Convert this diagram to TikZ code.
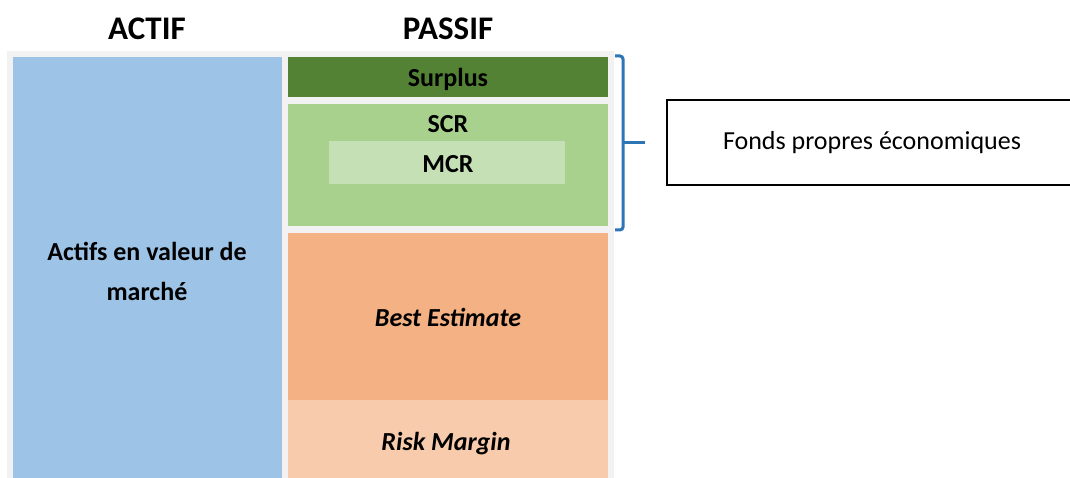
\documentclass[tikz,border=0pt]{standalone}
\usepackage{fontspec}
\setmainfont{Carlito}
\definecolor{bgGray}{HTML}{F2F2F2}
\definecolor{actifBlue}{HTML}{9DC3E6}
\definecolor{surplusGreen}{HTML}{548235}
\definecolor{scrGreen}{HTML}{A9D18E}
\definecolor{mcrGreen}{HTML}{C5E0B4}
\definecolor{beOrange}{HTML}{F4B183}
\definecolor{rmOrange}{HTML}{F8CBAD}
\definecolor{braceBlue}{HTML}{2E75B6}
\tikzset{
  block/.style={draw=none, inner sep=0pt, font=\fontsize{26}{30}\selectfont\bfseries},
  iblock/.style={block, font=\fontsize{26}{30}\selectfont\bfseries\itshape},
  heading/.style={font=\fontsize{33}{37}\selectfont\bfseries, inner sep=0pt},
}
\begin{document}
\begin{tikzpicture}[x=1pt,y=-1pt]
\useasboundingbox (0,0) rectangle (1070,478);
\fill[bgGray] (7,51) rectangle (614,478);
\node[heading] (actif) at (147,29) {ACTIF};
\node[heading] (passif) at (448,29) {PASSIF};
% actif
\fill[actifBlue] (13,57) rectangle (282,478);
\node[block, align=center] (actifs) at (147,271) {Actifs en valeur de\\[10pt]marché};
% passif
\fill[surplusGreen] (288,57) rectangle (608,97);
\node[block] (surplus) at (448,79) {Surplus};
\fill[scrGreen] (288,104) rectangle (608,226);
\node[block] (scr) at (448,124) {SCR};
\fill[mcrGreen] (329,141) rectangle (565,184);
\node[block] (mcr) at (448,164) {MCR};
\fill[beOrange] (288,233) rectangle (608,400);
\node[iblock] (be) at (448,317) {Best Estimate};
\fill[rmOrange] (288,400) rectangle (608,478);
\node[iblock] (rm) at (446,444) {Risk Margin};
% brace
\draw[braceBlue, line width=3pt, rounded corners=3pt] (615,56) -- (623,56) -- (623,230) -- (615,230);
\coordinate (bracemid) at (623,143);
\coordinate (bracetip) at (645,143);
\draw[braceBlue, line width=3pt] (bracemid) -- (bracetip);
% box
\draw[line width=2pt] (1080,100) -- (667,100) -- (667,185) -- (1080,185);
\node[font=\fontsize{26}{30}\selectfont, inner sep=0pt] (fonds) at (872,143) {Fonds propres économiques};
\end{tikzpicture}
\end{document}
